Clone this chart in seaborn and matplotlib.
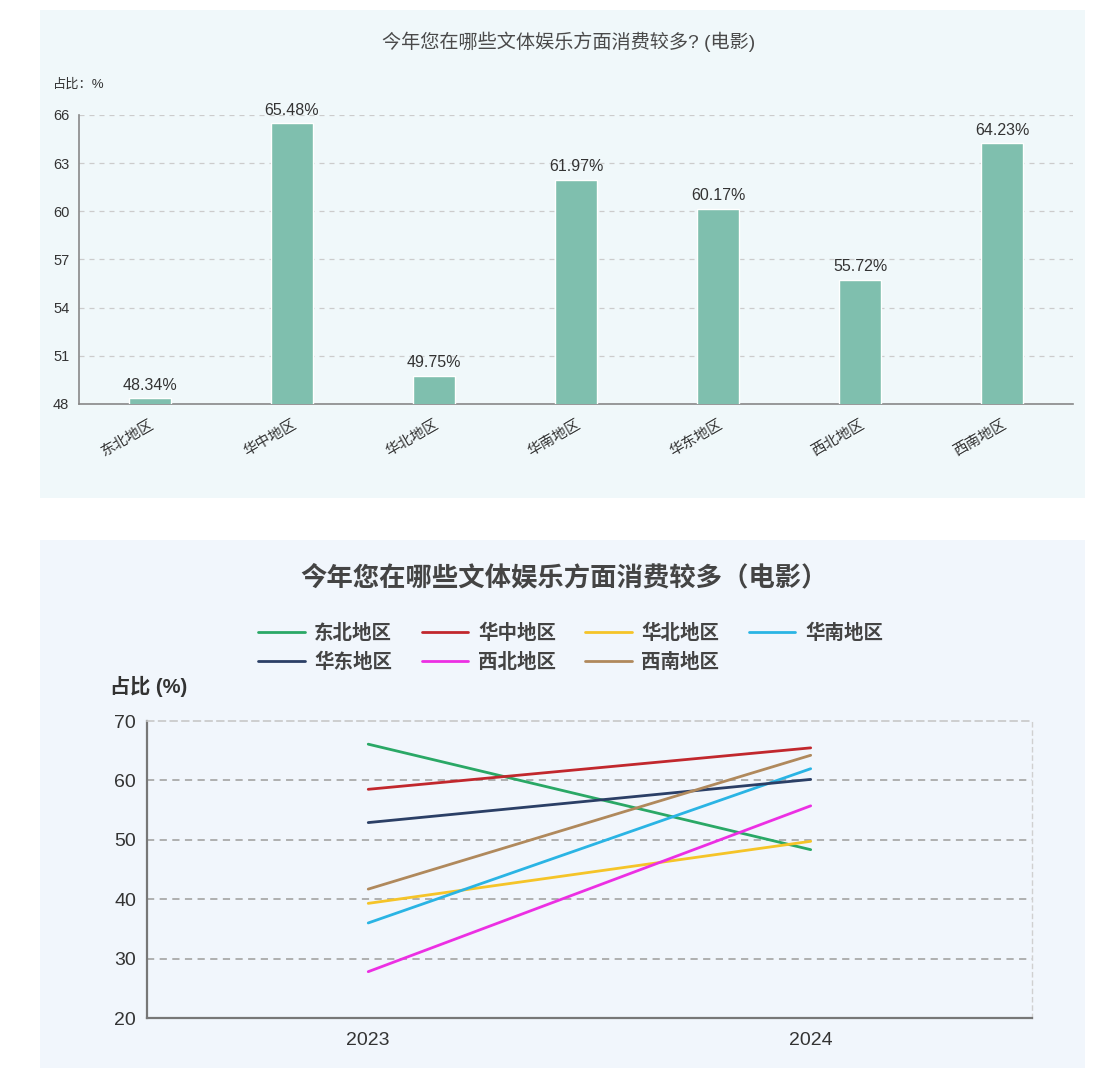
import numpy as np
import pandas as pd
import matplotlib.pyplot as plt
import seaborn as sns
from matplotlib.patches import Rectangle

sns.set_theme(style="white")
plt.rcParams['font.family'] = ['Liberation Sans', 'Noto Sans CJK SC', 'DejaVu Sans']
plt.rcParams['axes.unicode_minus'] = False

# ---- data ----
regions_bar = ["东北地区", "华中地区", "华北地区", "华南地区", "华东地区", "西北地区", "西南地区"]
share_2024 = [48.34, 65.48, 49.75, 61.97, 60.17, 55.72, 64.23]

years = ["2023", "2024"]
line_regions = ["东北地区", "华中地区", "华北地区", "华南地区", "华东地区", "西北地区", "西南地区"]
share_2023 = [66.1, 58.5, 39.3, 36.0, 52.9, 27.8, 41.7]
line_colors = ["#2aa866", "#c1272d", "#f5c428", "#2ab4e4", "#2b3f66", "#ec2fe3", "#b0895c"]

bar_yticks = [48, 51, 54, 57, 60, 63, 66]
line_yticks = [20, 30, 40, 50, 60, 70]

fig = plt.figure(figsize=(11.02, 10.8), dpi=100)
fig.patch.set_facecolor("white")

# panel backgrounds
fig.patches.append(Rectangle((0.0363, 0.5389), 0.948, 0.4519, transform=fig.transFigure,
                             facecolor="#f0f8fa", edgecolor="none", zorder=-10))
fig.patches.append(Rectangle((0.0363, 0.0111), 0.948, 0.4889, transform=fig.transFigure,
                             facecolor="#f1f6fc", edgecolor="none", zorder=-10))

# ---- top: bar chart ----
ax1 = fig.add_axes([0.0717, 0.626, 0.902, 0.2676])
ax1.patch.set_alpha(0)
bar_df = pd.DataFrame({"region": regions_bar, "share": share_2024})
sns.barplot(data=bar_df, x="region", y="share", color="#7fbfae", width=0.3,
            saturation=1, ax=ax1, zorder=3)
ax1.set_ylim(48, 66)
ax1.set_xlim(-0.5, 6.5)
ax1.set_yticks(bar_yticks)
ax1.set_yticklabels([str(t) for t in bar_yticks], fontsize=10.5, color="#333333")
ax1.yaxis.grid(True, linestyle=(0, (4, 4)), color="#cccccc", linewidth=0.9)
ax1.set_axisbelow(True)
for p, v in zip(ax1.patches, share_2024):
    ax1.text(p.get_x() + p.get_width() / 2, v + 0.35, f"{v:.2f}%", ha="center", va="bottom",
             fontsize=11.5, color="#333333", zorder=4)
ax1.set_xlabel("")
ax1.set_ylabel("")
ax1.set_xticks(range(len(regions_bar)))
ax1.set_xticklabels(regions_bar, rotation=30, ha="right", rotation_mode="anchor",
                    fontsize=10.5, color="#333333")
ax1.tick_params(axis="x", length=0, pad=10)
ax1.tick_params(axis="y", length=0, pad=7)
for s in ["top", "right"]:
    ax1.spines[s].set_visible(False)
for s in ["left", "bottom"]:
    ax1.spines[s].set_color("#888888")
    ax1.spines[s].set_linewidth(1.2)
fig.text(0.516, 0.961, "今年您在哪些文体娱乐方面消费较多? (电影)", ha="center", va="center",
         fontsize=13.8, color="#4a4a4a", fontweight="medium")
fig.text(0.048, 0.922, "占比：%", ha="left", va="center", fontsize=9.5, color="#333333")

# ---- bottom: line chart ----
ax2 = fig.add_axes([0.1334, 0.0574, 0.803, 0.275])
ax2.patch.set_alpha(0)
rows = []
for r, a, b in zip(line_regions, share_2023, share_2024):
    rows.append({"year": 0, "region": r, "share": a})
    rows.append({"year": 1, "region": r, "share": b})
line_df = pd.DataFrame(rows)
sns.lineplot(data=line_df, x="year", y="share", hue="region", hue_order=line_regions,
             palette=dict(zip(line_regions, line_colors)), linewidth=2, ax=ax2, zorder=3)
ax2.set_xlim(-0.5, 1.5)
ax2.set_ylim(20, 70)
ax2.set_xticks([0, 1])
ax2.set_xticklabels(years, fontsize=14, color="#333333")
ax2.set_yticks(line_yticks)
ax2.set_yticklabels([str(t) for t in line_yticks], fontsize=14, color="#333333")
ax2.tick_params(axis="x", length=0, pad=10)
ax2.tick_params(axis="y", length=0, pad=8)
ax2.set_xlabel("")
ax2.set_ylabel("")
for t in [30, 40, 50, 60]:
    ax2.axhline(t, color="#aaaaaa", linestyle=(0, (4, 3)), linewidth=1.3, zorder=1)
ax2.spines["top"].set_linestyle((0, (4, 3)))
ax2.spines["top"].set_color("#c8c8c8")
ax2.spines["top"].set_linewidth(1.2)
ax2.spines["right"].set_linestyle((0, (3, 3)))
ax2.spines["right"].set_color("#d0d0d0")
ax2.spines["right"].set_linewidth(1.0)
for s in ["left", "bottom"]:
    ax2.spines[s].set_color("#777777")
    ax2.spines[s].set_linewidth(1.6)
ax2.legend_.remove()
handles, labels = ax2.get_legend_handles_labels()
# matplotlib fills legend columns first; reorder so entries read row by row
order = [0, 4, 1, 5, 2, 6, 3]
fig.legend([handles[i] for i in order], [labels[i] for i in order], ncol=4, frameon=False,
           loc="center", bbox_to_anchor=(0.5177, 0.4),
           prop={"size": 14, "weight": "bold"},
           handlelength=2.4, handletextpad=0.5, columnspacing=1.5, labelspacing=0.5,
           borderpad=0, borderaxespad=0)
for t in fig.legends[0].get_texts():
    t.set_color("#444444")
fig.text(0.512, 0.465, "今年您在哪些文体娱乐方面消费较多（电影）", ha="center", va="center",
         fontsize=19, color="#444444", fontweight="bold")
fig.text(0.1, 0.364, "占比 (%)", ha="left", va="center", fontsize=14.5, color="#333333",
         fontweight="bold")

fig.savefig("out.png", dpi=100)
